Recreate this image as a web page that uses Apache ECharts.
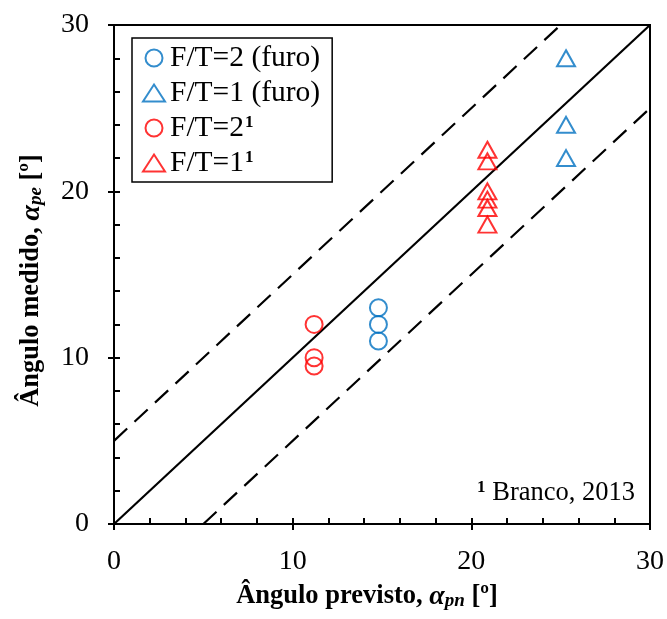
<!DOCTYPE html>
<html>
<head>
<meta charset="utf-8">
<script src="https://cdn.jsdelivr.net/npm/echarts@6/dist/echarts.min.js"></script>
<style>
  html, body { margin: 0; padding: 0; background: #fff; }
  #container { width: 667px; height: 619px; }
</style>
</head>
<body>
<div id="container"></div>
<script>
var seriesNames = ['F/T=2 (furo)', 'F/T=1 (furo)', 'F/T=2¹', 'F/T=1¹'];
var furoCircles = [[14.8, 13], [14.8, 12], [14.8, 11]];
var furoTriangles = [[25.3, 28], [25.3, 24], [25.3, 22]];
var brancoCircles = [[11.2, 12], [11.2, 10], [11.2, 9.5]];
var brancoTriangles = [[20.9, 22.5], [20.9, 21.8], [20.9, 20], [20.9, 19.5], [20.9, 19], [20.9, 18]];
var equalLine = [[0, 0], [30, 30]];
var upperLine = [[0, 5], [25, 30]];
var lowerLine = [[5, 0], [30, 25]];
var tickValues = [0, 10, 20, 30];

var dom = document.getElementById('container');
var myChart = echarts.init(dom);
var serif = '"Liberation Serif", "DejaVu Serif", serif';
var blue = '#0070C0';
var red = '#FF0000';

function markers(name, data, symbol, color) {
    return {
        name: name,
        type: 'scatter',
        data: data,
        symbol: symbol,
        symbolSize: symbol === 'triangle' ? [18, 16] : 17,
        itemStyle: {color: 'rgba(0,0,0,0)', borderColor: color, borderWidth: 2},
        z: 3
    };
}

function refLine(data, dashed) {
    return {
        type: 'line',
        data: data,
        showSymbol: false,
        silent: true,
        lineStyle: {color: '#000', width: 2.2, type: dashed ? [18, 10] : 'solid'},
        z: 2
    };
}

var nameRich = {
    b: {fontFamily: serif, fontWeight: 'bold', fontSize: 26.5, color: '#000'},
    a: {fontFamily: serif, fontWeight: 'bold', fontStyle: 'italic', fontSize: 28, color: '#000'},
    s: {fontFamily: serif, fontWeight: 'bold', fontStyle: 'italic', fontSize: 19, color: '#000', padding: [10, 0, 0, 0]}
};

var mainAxis = {
    min: 0, max: 30, interval: 10,
    axisLine: {onZero: false, lineStyle: {color: '#000', width: 2}},
    axisTick: {show: true, inside: false, length: 6, lineStyle: {color: '#000', width: 2}},
    axisLabel: {fontFamily: serif, fontSize: 28, color: '#000',
        customValues: tickValues},
    splitLine: {show: false},
    nameLocation: 'middle'
};

var minorAxis = {
    min: 0, max: 30, interval: 2,
    axisLine: {show: false, onZero: false},
    axisTick: {show: true, inside: true, length: 6, lineStyle: {color: '#000', width: 2}},
    axisLabel: {show: false},
    splitLine: {show: false}
};

var supStyle = {fontFamily: serif, fontSize: 17, fontWeight: 'bold', color: '#000', verticalAlign: 'top', padding: [0, 0, 14, 1]};

option = {
    animation: false,
    grid: {left: 114, right: 16, top: 25, bottom: 95, show: true, borderColor: '#000', borderWidth: 2},
    legend: {
        orient: 'vertical',
        left: 132, top: 38,
        padding: [5, 12, 4, 10],
        borderColor: '#000', borderWidth: 1.5,
        itemWidth: 22, itemHeight: 17, itemGap: 5,
        data: seriesNames,
        formatter: function (n) {
            if (n.indexOf('¹') >= 0) return n.replace('¹', '') + '{sup|1}';
            return n;
        },
        textStyle: {
            fontFamily: serif, fontSize: 29.5, color: '#000', lineHeight: 28,
            rich: {sup: supStyle}
        }
    },
    xAxis: [
        Object.assign({}, mainAxis, {
            type: 'value', position: 'bottom',
            axisLabel: Object.assign({}, mainAxis.axisLabel, {margin: 24}),
            name: '{b|Ângulo previsto, }{a|α}{s|pn}{b| [º]}',
            nameGap: 58,
            nameTextStyle: {rich: nameRich, padding: [0, 30, 0, 0]}
        }),
        Object.assign({}, minorAxis, {type: 'value', position: 'bottom'})
    ],
    yAxis: [
        Object.assign({}, mainAxis, {
            type: 'value', position: 'left',
            axisLabel: Object.assign({}, mainAxis.axisLabel, {margin: 25}),
            name: '{b|Ângulo medido, }{a|α}{s|pe}{b| [º]}',
            nameGap: 68,
            nameRotate: 90,
            nameTextStyle: {rich: nameRich, padding: [0, 12, 0, 0]}
        }),
        Object.assign({}, minorAxis, {type: 'value', position: 'left'})
    ],
    graphic: [{
        type: 'text',
        right: 32, top: 479,
        style: {
            text: '{sup|1} Branco, 2013',
            fontFamily: serif, fontSize: 26.5, fill: '#000',
            rich: {sup: {fontFamily: serif, fontSize: 17, fontWeight: 'bold', fill: '#000', verticalAlign: 'top', padding: [0, 0, 12, 0]}}
        },
        z: 10
    }],
    series: [
        refLine(equalLine, false),
        refLine(upperLine, true),
        refLine(lowerLine, true),
        markers(seriesNames[0], furoCircles, 'circle', blue),
        markers(seriesNames[1], furoTriangles, 'triangle', blue),
        markers(seriesNames[2], brancoCircles, 'circle', red),
        markers(seriesNames[3], brancoTriangles, 'triangle', red)
    ]
};

if (option && typeof option === 'object') {
    myChart.setOption(option);
}
</script>
</body>
</html>
